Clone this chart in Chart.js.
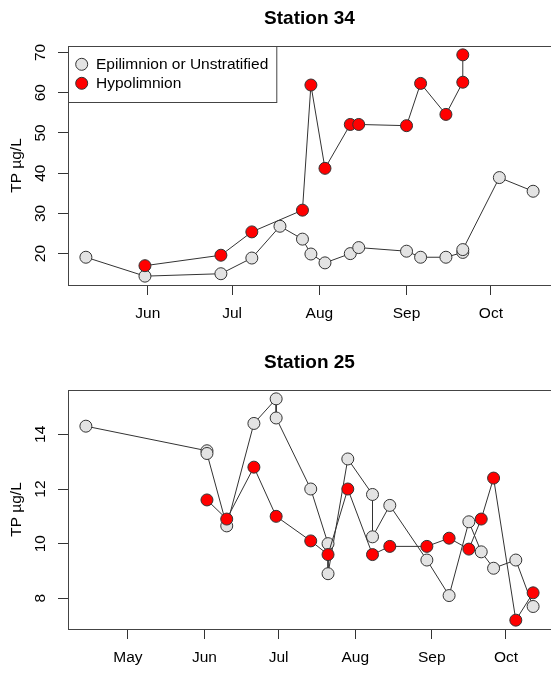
<!DOCTYPE html>
<html>
<head>
<meta charset="utf-8">
<script src="https://cdn.jsdelivr.net/npm/chart.js@4.4.1/dist/chart.umd.min.js"></script>
<style>
  html, body { margin: 0; padding: 0; background: #fff; overflow: hidden; }
  #wrap { position: relative; width: 551px; height: 673px; }
  canvas { position: absolute; left: 0; }
</style>
</head>
<body>
<div id="wrap">
  <canvas id="st34" width="551" height="340" style="top:0;width:551px;height:340px"></canvas>
  <canvas id="st25" width="551" height="329" style="top:344px;width:551px;height:329px"></canvas>
</div>
<script>
// Month starts (day of year) used as x-axis ticks
const monthDays  = [121, 152, 182, 213, 244, 274];
const monthNames = ['May', 'Jun', 'Jul', 'Aug', 'Sep', 'Oct'];

// Station 34 – total phosphorus (µg/L) by sampling day of year
const st34EpiDays  = [130, 151, 178, 189, 199, 207, 210, 215, 224, 227, 244, 249, 258, 264, 264, 277, 289];
const st34EpiTP    = [19.1, 14.4, 15.0, 18.9, 26.8, 23.6, 19.9, 17.7, 20.0, 21.5, 20.6, 19.1, 19.1, 20.3, 21.0, 38.9, 35.5];
const st34HypoDays = [151, 178, 189, 207, 210, 215, 224, 227, 244, 249, 258, 264, 264];
const st34HypoTP   = [17.0, 19.6, 25.4, 30.8, 61.9, 41.2, 52.1, 52.1, 51.8, 62.3, 54.6, 62.6, 69.4];
const st34YTicks   = [20, 30, 40, 50, 60, 70];

// Station 25 – total phosphorus (µg/L) by sampling day of year
const st25EpiDays  = [104, 153, 153, 161, 172, 181, 181, 195, 202, 202, 210, 220, 220, 227, 242, 251, 259, 264, 269, 278, 285];
const st25EpiTP    = [14.3, 13.4, 13.3, 10.65, 14.4, 15.3, 14.6, 12.0, 10.0, 8.9, 13.1, 11.8, 10.25, 11.4, 9.4, 8.1, 10.8, 9.7, 9.1, 9.4, 7.7];
const st25HypoDays = [153, 161, 172, 181, 195, 202, 210, 220, 227, 242, 251, 259, 264, 269, 278, 285];
const st25HypoTP   = [11.6, 10.9, 12.8, 11.0, 10.1, 9.6, 12.0, 9.6, 9.9, 9.9, 10.2, 9.8, 10.9, 12.4, 7.2, 8.2];
const st25YTicks   = [8, 10, 12, 14];

const seriesNames = ['Epilimnion or Unstratified', 'Hypolimnion'];

const FONT = 'Liberation Sans, Arial, Helvetica, sans-serif';
const EPI_FILL = '#e3e3e3';
const HYPO_FILL = '#ff0000';
const EDGE = '#333333';
const FRAME = '#444444';

Chart.defaults.font.family = FONT;

function pairs(xs, ys) { return xs.map((x, i) => ({ x: x, y: ys[i] })); }

// axis range extended 4% on each side of the data
function padded(vals) {
  const lo = Math.min(...vals), hi = Math.max(...vals);
  const d = (hi - lo) * 0.04;
  return [lo - d, hi + d];
}

const framePlugin = {
  id: 'frame',
  afterDraw(chart) {
    const a = chart.chartArea, ctx = chart.ctx;
    ctx.save();
    ctx.strokeStyle = FRAME;
    ctx.lineWidth = 1;
    ctx.strokeRect(a.left + 0.5, a.top + 0.5, a.right - a.left, a.bottom - a.top);
    ctx.restore();
  }
};

const yLabelPlugin = {
  id: 'rotatedYLabels',
  afterDraw(chart) {
    const s = chart.scales.y, ctx = chart.ctx;
    ctx.save();
    ctx.font = '15.5px ' + FONT;
    ctx.fillStyle = '#000';
    ctx.textAlign = 'center';
    ctx.textBaseline = 'middle';
    s.ticks.forEach(t => {
      const py = s.getPixelForValue(t.value);
      ctx.save();
      ctx.translate(41, py);
      ctx.rotate(-Math.PI / 2);
      ctx.fillText(String(t.value), 0, 0);
      ctx.restore();
    });
    ctx.restore();
  }
};

function titlePlugin(text) {
  return {
    id: 'plotTitle',
    afterDraw(chart) {
      const a = chart.chartArea, ctx = chart.ctx;
      ctx.save();
      ctx.font = 'bold 19px ' + FONT;
      ctx.fillStyle = '#000';
      ctx.textAlign = 'center';
      ctx.textBaseline = 'middle';
      ctx.fillText(text, (a.left + a.right) / 2, a.top - 27);
      ctx.restore();
    }
  };
}

const legendPlugin = {
  id: 'boxedLegend',
  afterDraw(chart) {
    const a = chart.chartArea, ctx = chart.ctx;
    ctx.save();
    ctx.font = '15.5px ' + FONT;
    const w = 28 + Math.max(...seriesNames.map(n => ctx.measureText(n).width)) + 8;
    const h = 56;
    ctx.fillStyle = '#fff';
    ctx.fillRect(a.left, a.top, w, h);
    ctx.strokeStyle = FRAME;
    ctx.lineWidth = 1;
    ctx.strokeRect(a.left + 0.5, a.top + 0.5, w, h);
    const fills = [EPI_FILL, HYPO_FILL];
    seriesNames.forEach((name, i) => {
      const cy = a.top + 18.3 + i * 19;
      ctx.beginPath();
      ctx.arc(a.left + 13.7, cy, 6, 0, Math.PI * 2);
      ctx.fillStyle = fills[i];
      ctx.fill();
      ctx.strokeStyle = EDGE;
      ctx.stroke();
      ctx.fillStyle = '#000';
      ctx.textAlign = 'left';
      ctx.textBaseline = 'middle';
      ctx.fillText(name, a.left + 28, cy + 0.5);
    });
    ctx.restore();
  }
};

function seriesStyle(fill) {
  return {
    borderColor: EDGE,
    borderWidth: 1,
    tension: 0,
    pointRadius: 6,
    pointHoverRadius: 6,
    pointBorderWidth: 1,
    pointBorderColor: EDGE,
    pointBackgroundColor: fill,
    fill: false
  };
}

function makeChart(id, title, epiDays, epiTP, hypoDays, hypoTP, yTicks, withLegend, canvasH) {
  const [xMin, xMax] = padded(epiDays.concat(hypoDays));
  const [yMin, yMax] = padded(epiTP.concat(hypoTP));
  const plugins = [framePlugin, yLabelPlugin, titlePlugin(title)];
  if (withLegend) plugins.push(legendPlugin);
  return new Chart(document.getElementById(id), {
    type: 'line',
    data: {
      datasets: [
        Object.assign({ label: seriesNames[1], data: pairs(hypoDays, hypoTP), order: 0 }, seriesStyle(HYPO_FILL)),
        Object.assign({ label: seriesNames[0], data: pairs(epiDays, epiTP), order: 1 }, seriesStyle(EPI_FILL))
      ]
    },
    options: {
      responsive: false,
      animation: false,
      events: [],
      layout: { autoPadding: false, padding: { top: 46, left: 0, right: 0, bottom: 0 } },
      plugins: {
        legend: { display: false },
        tooltip: { enabled: false },
        title: { display: false }
      },
      scales: {
        x: {
          type: 'linear',
          min: xMin,
          max: xMax,
          afterBuildTicks(s) {
            s.ticks = monthDays.filter(d => d >= s.min && d <= s.max).map(v => ({ value: v }));
          },
          ticks: {
            autoSkip: false,
            maxRotation: 0,
            minRotation: 0,
            padding: 9.7,
            color: '#000',
            font: { size: 15.5 },
            callback: v => monthNames[monthDays.indexOf(v)]
          },
          grid: { drawOnChartArea: false, drawTicks: true, tickLength: 10, color: EDGE, lineWidth: 1 },
          border: { display: true, color: FRAME, width: 1 },
          afterFit(s) { s.height = canvasH - 285; }
        },
        y: {
          type: 'linear',
          min: yMin,
          max: yMax,
          afterBuildTicks(s) { s.ticks = yTicks.map(v => ({ value: v })); },
          ticks: { display: false },
          grid: { drawOnChartArea: false, drawTicks: true, tickLength: 10, color: EDGE, lineWidth: 1 },
          border: { display: true, color: FRAME, width: 1 },
          title: {
            display: true,
            text: 'TP µg/L',
            color: '#000',
            font: { size: 15.5 },
            padding: { top: 7.7, bottom: 0 }
          },
          afterFit(s) { s.width = 68; }
        }
      }
    },
    plugins: plugins
  });
}

makeChart('st34', 'Station 34', st34EpiDays, st34EpiTP, st34HypoDays, st34HypoTP, st34YTicks, true, 340);
makeChart('st25', 'Station 25', st25EpiDays, st25EpiTP, st25HypoDays, st25HypoTP, st25YTicks, false, 329);
</script>
</body>
</html>
